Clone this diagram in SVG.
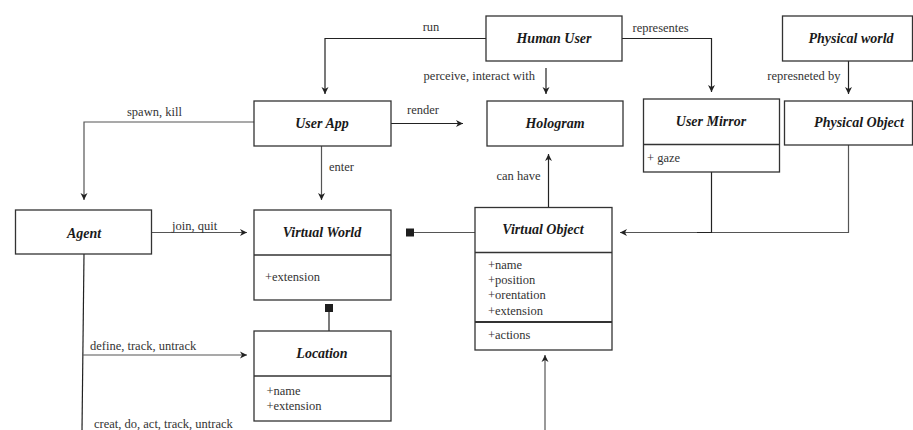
<svg xmlns="http://www.w3.org/2000/svg" width="913" height="430" viewBox="0 0 913 430" font-family="'Liberation Serif', 'DejaVu Serif', serif">
<defs>
<style>
.box{fill:#fff;stroke:#333;stroke-width:1.3}
.div{stroke:#333;stroke-width:1.3}
.div2{stroke:#333;stroke-width:2}
text{font-family:'Liberation Serif','DejaVu Serif',serif}
.t{font-size:14px;font-weight:bold;font-style:italic;fill:#1a1a1a;text-anchor:middle}
.a{font-size:12.5px;fill:#333}
.l{font-size:12.5px;fill:#333}
.c{fill:none;stroke:#555;stroke-width:1.2}
.c2{fill:none;stroke:#222;stroke-width:1.2}
</style>
<marker id="arr" markerUnits="userSpaceOnUse" markerWidth="10" markerHeight="10" refX="7" refY="4" orient="auto">
<path d="M0,0.5 L7,4 L0,7.5 L2,4 Z" fill="#222"/>
</marker>
<marker id="sq" markerUnits="userSpaceOnUse" markerWidth="10" markerHeight="10" refX="1" refY="4" orient="auto">
<rect x="0" y="0" width="8" height="8" fill="#1e1e1e"/>
</marker>
</defs>

<g id="connectors">
<polyline class="c2" points="486,38.5 325,38.5 325,94" marker-end="url(#arr)"/>
<polyline class="c2" points="622,38.5 711.5,38.5 711.5,92" marker-end="url(#arr)"/>
<line class="c2" x1="546" y1="68" x2="546" y2="94" marker-end="url(#arr)"/>
<line class="c2" x1="848.5" y1="61" x2="848.5" y2="94" marker-end="url(#arr)"/>
<line class="c2" x1="391" y1="123.5" x2="463" y2="123.5" marker-end="url(#arr)"/>
<polyline class="c" points="254,122 84,122 84,200" marker-end="url(#arr)"/>
<line class="c" x1="321.5" y1="146" x2="321.5" y2="200" marker-end="url(#arr)"/>
<line class="c2" x1="548.5" y1="207" x2="548.5" y2="154" marker-end="url(#arr)"/>
<line class="c" x1="152" y1="232.5" x2="247" y2="232.5" marker-end="url(#arr)"/>
<line class="c" x1="475" y1="232.5" x2="413" y2="232.5" marker-end="url(#sq)"/>
<line class="c2" x1="329" y1="331" x2="329" y2="311" marker-end="url(#sq)"/>
<polyline class="c" points="848.5,145 848.5,232.5 620,232.5" marker-end="url(#arr)"/>
<polyline class="c2" points="711.5,172 711.5,232.5 697,232.5"/>
<line class="c2" x1="84" y1="254" x2="82" y2="430"/>
<line class="c" x1="82.5" y1="355" x2="247" y2="355" marker-end="url(#arr)"/>
<line class="c" x1="545" y1="430" x2="545" y2="355" marker-end="url(#arr)"/>
<text class="l" x="431" y="31" text-anchor="middle">run</text>
<text class="l" x="632.5" y="32">representes</text>
<text class="l" x="535" y="80" text-anchor="end">perceive, interact with</text>
<text class="l" x="840.5" y="80" text-anchor="end">represneted by</text>
<text class="l" x="407" y="114">render</text>
<text class="l" x="127" y="116">spawn, kill</text>
<text class="l" x="329" y="171">enter</text>
<text class="l" x="496.5" y="180">can have</text>
<text class="l" x="172" y="230">join, quit</text>
<text class="l" x="90" y="350">define, track, untrack</text>
<text class="l" x="94" y="428">creat, do, act, track, untrack</text>
</g>

<g id="human-user">
<rect class="box" x="486" y="16" width="136" height="45"/>
<text class="t" x="554" y="43">Human User</text>
</g>
<g id="physical-world">
<rect class="box" x="782.5" y="16" width="130" height="45"/>
<text class="t" x="851" y="43">Physical world</text>
</g>
<g id="user-app">
<rect class="box" x="254" y="101" width="137" height="45"/>
<text class="t" x="322" y="128">User App</text>
</g>
<g id="hologram">
<rect class="box" x="487" y="101" width="136" height="45"/>
<text class="t" x="555" y="128">Hologram</text>
</g>
<g id="user-mirror">
<rect class="box" x="643.5" y="99" width="136" height="73"/>
<line class="div" x1="643.5" y1="144.5" x2="779.5" y2="144.5"/>
<text class="t" x="711" y="126">User Mirror</text>
<text class="a" x="647" y="162">+ gaze</text>
</g>
<g id="physical-object">
<rect class="box" x="784.5" y="101" width="128" height="44"/>
<text class="t" x="859" y="127">Physical Object</text>
</g>
<g id="agent">
<rect class="box" x="15.5" y="210" width="136" height="44"/>
<text class="t" x="84" y="238">Agent</text>
</g>
<g id="virtual-world">
<rect class="box" x="254" y="210" width="137" height="90"/>
<line class="div" x1="254" y1="255" x2="391" y2="255"/>
<text class="t" x="322" y="237">Virtual World</text>
<text class="a" x="265" y="281">+extension</text>
</g>
<g id="virtual-object">
<rect class="box" x="475" y="207.5" width="137" height="142.5"/>
<line class="div" x1="475" y1="252.5" x2="612" y2="252.5"/>
<line class="div2" x1="475" y1="322" x2="612" y2="322"/>
<text class="t" x="543" y="234">Virtual Object</text>
<text class="a" x="488" y="269">+name</text>
<text class="a" x="488" y="284">+position</text>
<text class="a" x="488" y="299">+orentation</text>
<text class="a" x="488" y="315">+extension</text>
<text class="a" x="488" y="339">+actions</text>
</g>
<g id="location">
<rect class="box" x="254" y="331" width="137" height="90"/>
<line class="div" x1="254" y1="376" x2="391" y2="376"/>
<text class="t" x="322" y="358">Location</text>
<text class="a" x="266.5" y="394.5">+name</text>
<text class="a" x="266.5" y="409.5">+extension</text>
</g>
</svg>
